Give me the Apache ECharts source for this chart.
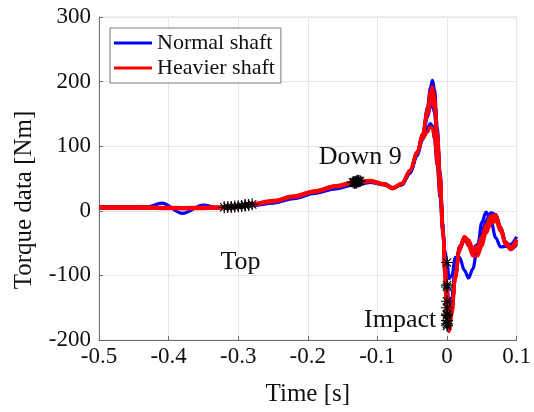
<!DOCTYPE html>
<html>
<head>
<meta charset="utf-8">
<script src="https://cdn.jsdelivr.net/npm/echarts@6/dist/echarts.min.js"></script>
<style>
  html, body { margin: 0; padding: 0; background: #fff; }
  #chart { width: 534px; height: 412px; }
</style>
</head>
<body>
<div id="chart"></div>
<script>
// Sample times [s], shared by every trial
const time = [-0.5, -0.46, -0.43, -0.41, -0.38, -0.35, -0.33, -0.31, -0.28, -0.25,
  -0.22, -0.19, -0.16, -0.13, -0.11, -0.09, -0.078, -0.065, -0.053, -0.043,
  -0.035, -0.028, -0.024, -0.021, -0.018, -0.014, -0.01, -0.006, -0.003, 0,
  0.003, 0.007, 0.012, 0.018, 0.025, 0.031, 0.037, 0.044, 0.05, 0.056,
  0.063, 0.07, 0.077, 0.084, 0.091, 0.1];

// Torque [Nm], normal shaft trials
const normal1 = [6, 6, 6, 5, 4, 5, 5, 6, 9, 13, 20, 28, 35, 42, 44, 40, 35, 40, 60, 88,
  118, 160, 190, 202, 188, 130, 60, -20, -90, -150, -160, -135, -90, -55, -45, -52, -62, -58, -42, -22,
  -8, -8, -28, -50, -58, -50];
const normal2 = [6, 6, 6, 12, -4, 9, 5, 6, 8, 12, 19, 27, 34, 41, 44, 42, 36, 40, 58, 85,
  110, 128, 135, 132, 110, 70, 20, -35, -62, -80, -105, -100, -72, -72, -92, -104, -90, -55, -18, -2,
  -15, -42, -56, -55, -52, -40];
const normal3 = [5, 5, 5, 5, 4, 4, 5, 6, 9, 14, 21, 29, 36, 43, 45, 41, 35, 41, 60, 88,
  115, 150, 170, 175, 162, 110, 45, -25, -75, -115, -150, -140, -95, -58, -45, -50, -60, -55, -38, -18,
  -5, -6, -26, -48, -58, -45];
const normal4 = [5, 5, 5, 5, 4, 4, 5, 6, 9, 14, 21, 29, 36, 43, 45, 41, 35, 41, 60, 88,
  115, 145, 160, 165, 152, 105, 45, -30, -90, -140, -158, -140, -95, -60, -44, -48, -58, -52, -35, -15,
  -3, -6, -28, -52, -60, -52];
const normal5 = [5, 5, 5, 5, 4, 4, 5, 6, 9, 14, 21, 29, 36, 43, 45, 41, 35, 41, 60, 88,
  116, 155, 180, 185, 172, 120, 55, -25, -95, -162, -172, -150, -100, -60, -44, -52, -64, -60, -44, -25,
  -10, -8, -26, -48, -56, -46];

// Torque [Nm], heavier shaft trials
const heavier1 = [5, 5, 5, 4.5, 4, 4.5, 5, 6, 10, 15, 22, 30, 38, 45, 46, 41, 35, 42, 62, 90,
  118, 158, 185, 192, 178, 122, 55, -25, -100, -178, -187, -160, -105, -58, -40, -45, -58, -55, -40, -22,
  -8, -6, -25, -48, -57, -45];
const heavier2 = [6, 6, 6, 5.5, 5, 5.5, 6, 7, 11, 16, 23, 31, 39, 46, 47, 42, 36, 43, 63, 91,
  118, 152, 175, 180, 168, 115, 50, -30, -100, -170, -180, -155, -100, -58, -42, -55, -70, -70, -55, -35,
  -20, -16, -32, -52, -58, -48];
const heavier3 = [4, 4, 4, 3.5, 3, 3.5, 4, 5, 9, 14, 21, 29, 37, 44, 45, 40, 34, 41, 61, 89,
  118, 148, 165, 170, 158, 110, 48, -28, -92, -160, -175, -150, -98, -56, -40, -47, -60, -58, -42, -24,
  -10, -8, -27, -48, -56, -44];
const heavier4 = [5, 5, 5, 5, 4.5, 5, 5.5, 6.5, 10.5, 15.5, 22.5, 30.5, 38.5, 45.5, 46, 41, 35, 42, 62, 90,
  112, 122, 130, 128, 112, 72, 25, -30, -75, -118, -160, -150, -105, -62, -42, -48, -62, -64, -48, -30,
  -15, -12, -30, -52, -60, -50];
const heavier5 = [5.5, 5.5, 5, 4.5, 4, 4.5, 5, 6, 10, 15, 22, 30, 38, 45, 46, 41, 35, 42, 62, 90,
  118, 155, 178, 185, 172, 118, 52, -28, -98, -175, -183, -158, -102, -57, -41, -50, -65, -62, -46, -27,
  -12, -10, -28, -50, -57, -46];

// Swing events per trial: [time, torque]
const topMarks = [[-0.32, 5.5], [-0.30, 7], [-0.29, 8.5], [-0.31, 6], [-0.285, 9],
  [-0.305, 6.5], [-0.295, 7.5], [-0.29, 8.5], [-0.315, 6], [-0.28, 10]];
const down9Marks = [[-0.135, 44], [-0.128, 45], [-0.13, 44], [-0.125, 46], [-0.132, 43],
  [-0.13, 45], [-0.127, 46], [-0.133, 44], [-0.129, 47], [-0.131, 45]];
const impactMarks = [[0, -150], [0, -80], [0, -115], [0, -140], [0, -162],
  [0, -178], [0, -170], [0, -160], [0, -118], [0, -175]];

// Event captions: [time, torque, text]
const eventLabels = [[-0.2966, -79, 'Top'], [-0.1248, 83, 'Down 9'], [-0.0673, -169, 'Impact']];

const xTicks = { min: -0.5, max: 0.1, step: 0.1 };
const yTicks = { min: -200, max: 300, step: 100 };

const normalTrials = [normal1, normal2, normal3, normal4, normal5];
const heavierTrials = [heavier1, heavier2, heavier3, heavier4, heavier5];

const FONT = '"Liberation Serif", "Times New Roman", serif';
const TXT = '#111';

const pair = arr => arr.map((v, i) => [time[i], v]);

function trialSeries(arr, name, color) {
  return {
    type: 'line', name: name, data: pair(arr),
    showSymbol: false, symbol: 'none',
    smooth: 0.35, smoothMonotone: 'x',
    lineStyle: { color: color, width: 3.2 },
    itemStyle: { color: color },
    animation: false, z: 2
  };
}

const asterisk = 'path://M5,0L5,10M0,5L10,5M1.5,1.5L8.5,8.5M1.5,8.5L8.5,1.5';

const series = [];
normalTrials.forEach(a => series.push(trialSeries(a, 'Normal shaft', '#0000ff')));
heavierTrials.forEach(a => series.push(trialSeries(a, 'Heavier shaft', '#ff0000')));
series.push({
  type: 'scatter', name: 'events',
  data: topMarks.concat(down9Marks, impactMarks),
  symbol: asterisk, symbolSize: 12,
  itemStyle: { color: 'rgba(0,0,0,0)', borderColor: '#000', borderWidth: 1.1, opacity: 1 },
  z: 5, animation: false, silent: true
});
series.push({
  type: 'scatter', name: 'captions',
  data: eventLabels.map(d => ({ value: [d[0], d[1]], name: d[2] })),
  symbolSize: 0,
  itemStyle: { opacity: 1 },
  label: {
    show: true, position: 'inside', formatter: p => p.name,
    fontFamily: FONT, fontSize: 26, color: TXT, opacity: 1
  },
  z: 6, animation: false, silent: true
});

const chart = echarts.init(document.getElementById('chart'), null, { renderer: 'canvas' });
chart.setOption({
  backgroundColor: '#fff',
  animation: false,
  grid: {
    left: 99, right: 13, top: 17, bottom: 72,
    show: true, borderColor: '#dedede', borderWidth: 1, backgroundColor: 'transparent'
  },
  legend: {
    data: ['Normal shaft', 'Heavier shaft'],
    orient: 'vertical', left: 110, top: 28,
    backgroundColor: '#fff', borderColor: '#7a7a7a', borderWidth: 1,
    padding: [4, 6, 4, 4], itemGap: 3,
    itemWidth: 38, itemHeight: 3, icon: 'rect',
    textStyle: { fontFamily: FONT, fontSize: 22, color: TXT }
  },
  xAxis: {
    type: 'value', min: xTicks.min, max: xTicks.max, interval: xTicks.step,
    name: 'Time [s]', nameLocation: 'middle', nameGap: 42,
    nameTextStyle: { fontFamily: FONT, fontSize: 25, color: TXT },
    axisLine: { show: true, onZero: false, lineStyle: { color: '#6e6e6e', width: 1 } },
    axisTick: { show: true, inside: true, length: 4, lineStyle: { color: '#6e6e6e' } },
    axisLabel: {
      fontFamily: FONT, fontSize: 23, color: TXT, margin: 5,
      formatter: v => String(+v.toFixed(1))
    },
    splitLine: { show: true, lineStyle: { color: '#e6e6e6', width: 1 } }
  },
  yAxis: {
    type: 'value', min: yTicks.min, max: yTicks.max, interval: yTicks.step,
    axisLine: { show: true, onZero: false, lineStyle: { color: '#6e6e6e', width: 1 } },
    axisTick: { show: true, inside: true, length: 4, lineStyle: { color: '#6e6e6e' } },
    axisLabel: { fontFamily: FONT, fontSize: 23, color: TXT, margin: 8 },
    splitLine: { show: true, lineStyle: { color: '#e6e6e6', width: 1 } }
  },
  graphic: [{
    type: 'text', x: 24, y: 200, rotation: Math.PI / 2,
    style: {
      text: 'Torque data [Nm]', font: '25px ' + FONT, fill: TXT,
      textAlign: 'center', textVerticalAlign: 'middle'
    }
  }],
  series: series
});
</script>
</body>
</html>
